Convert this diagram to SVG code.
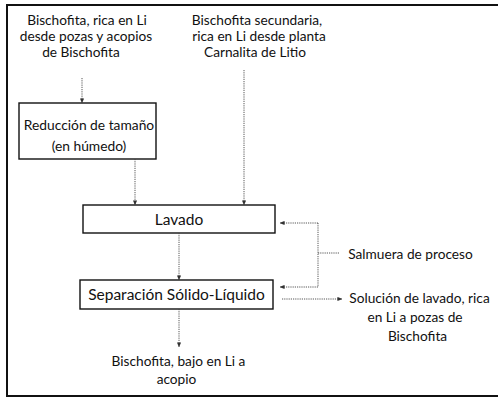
<svg xmlns="http://www.w3.org/2000/svg" width="498" height="398" viewBox="0 0 498 398">
<defs>
<marker id="ah" viewBox="0 0 6 6" refX="5.5" refY="3" markerWidth="5" markerHeight="5" orient="auto" markerUnits="userSpaceOnUse">
<path d="M0,0.5 L6,3 L0,5.5 Z" fill="#333"/>
</marker>
</defs>
<style>
text{font-family:Lato,"Liberation Sans",sans-serif;fill:#111;text-anchor:middle;dominant-baseline:central}
.s{font-size:13.7px}
.b{font-size:15.5px}
.r{font-size:13.8px}
.box{fill:#fff;stroke:#111;stroke-width:1.4}
.c{fill:none;stroke:#444;stroke-width:0.9;stroke-dasharray:1.2 1}
</style>
<rect x="7" y="5" width="500" height="391" fill="#fff" stroke="#111" stroke-width="2"/>
<g id="src1">
<text class="s" x="87" y="19">Bischofita, rica en Li</text>
<text class="s" x="86" y="35">desde pozas y acopios</text>
<text class="s" x="81" y="51">de Bischofita</text>
</g>
<g id="src2">
<text class="s" x="257" y="19">Bischofita secundaria,</text>
<text class="s" x="259" y="35">rica en Li desde planta</text>
<text class="s" x="255" y="51">Carnalita de Litio</text>
</g>
<g id="reduccion">
<rect class="box" x="19" y="103" width="137" height="56"/>
<text class="r" x="89" y="124">Reducción de tamaño</text>
<text class="r" x="89" y="145">(en húmedo)</text>
</g>
<g id="lavado">
<rect class="box" x="83" y="205" width="192" height="28"/>
<text class="b" x="179" y="219">Lavado</text>
</g>
<g id="separacion">
<rect class="box" x="80" y="280" width="193" height="29"/>
<text class="b" x="176.5" y="294">Separación Sólido-Líquido</text>
</g>
<g id="salida">
<text class="s" x="178.5" y="360">Bischofita, bajo en Li a</text>
<text class="s" x="176.5" y="378">acopio</text>
</g>
<g id="salmuera">
<text class="s" x="410.5" y="253">Salmuera de proceso</text>
</g>
<g id="solucion">
<text class="s" x="419.5" y="297">Solución de lavado, rica</text>
<text class="s" x="415" y="316">en Li a pozas de</text>
<text class="s" x="417.5" y="335">Bischofita</text>
</g>
<g id="connectors">
<line class="c" x1="82" y1="78" x2="82" y2="103" marker-end="url(#ah)"/>
<line class="c" x1="244" y1="70" x2="244" y2="205" marker-end="url(#ah)"/>
<line class="c" x1="135" y1="159" x2="135" y2="205" marker-end="url(#ah)"/>
<line class="c" x1="179" y1="233" x2="179" y2="280" marker-end="url(#ah)"/>
<line class="c" x1="179" y1="309" x2="179" y2="347" marker-end="url(#ah)"/>
<polyline class="c" points="318,223 318,287"/>
<line class="c" x1="318" y1="223" x2="280" y2="223" marker-end="url(#ah)"/>
<line class="c" x1="318" y1="287" x2="280" y2="287" marker-end="url(#ah)"/>
<line class="c" x1="318" y1="253" x2="339" y2="253"/>
<line class="c" x1="282" y1="299" x2="342" y2="299" marker-end="url(#ah)"/>
</g>
</svg>
